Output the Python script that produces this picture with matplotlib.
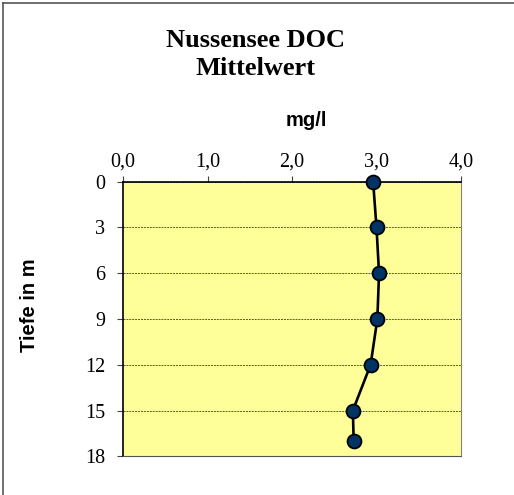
import matplotlib.pyplot as plt
from matplotlib.lines import Line2D

# Nussensee DOC Mittelwert
tiefe = [0, 3, 6, 9, 12, 15, 17]
doc = [2.96, 3.00, 3.03, 3.01, 2.93, 2.72, 2.73]

x_ticks = [0, 1, 2, 3, 4]
x_labels = ["0,0", "1,0", "2,0", "3,0", "4,0"]
y_ticks = [0, 3, 6, 9, 12, 15, 18]

fig = plt.figure(figsize=(5.14, 4.95), dpi=100)
ax = fig.add_axes([0.2393, 0.0782, 0.6576, 0.5547])
ax.set_facecolor("#FFFF99")

ax.plot(doc, tiefe, color="black", lw=1.9, marker="o", markersize=10,
        markerfacecolor="#003366", markeredgecolor="black", markeredgewidth=1.3,
        zorder=3, clip_on=False)

ax.set_xlim(0, 4)
ax.set_ylim(18, 0)
ax.set_xticks(x_ticks)
ax.set_xticklabels(x_labels, family="Liberation Serif", fontsize=14.5)
ax.set_yticks(y_ticks)
ax.set_yticklabels([str(v) for v in y_ticks], family="Liberation Serif", fontsize=14.5)
ax.xaxis.tick_top()
ax.tick_params(axis="x", direction="out", length=4, width=0.8, pad=3, color="#444444")
ax.tick_params(axis="y", direction="out", length=4.3, width=0.8, pad=8.5, color="#444444")

ax.yaxis.grid(True, linestyle=(0, (2, 1)), color="#555555", lw=0.7)
ax.set_axisbelow(True)

ax.spines["top"].set_color("black")
ax.spines["left"].set_color("black")
ax.spines["top"].set_linewidth(1.2)
ax.spines["left"].set_linewidth(1.2)
ax.spines["right"].set_color("#808080")
ax.spines["bottom"].set_color("#555555")

fig.text(0.497, 0.918, "Nussensee DOC", ha="center", va="center",
         family="Liberation Serif", fontweight="bold", fontsize=19)
fig.text(0.497, 0.862, "Mittelwert", ha="center", va="center",
         family="Liberation Serif", fontweight="bold", fontsize=19)
fig.text(0.595, 0.757, "mg/l", ha="center", va="center",
         family="Liberation Sans", fontweight="bold", fontsize=14.5)
fig.text(0.058, 0.384, "Tiefe in m", ha="center", va="center", rotation=90,
         family="Liberation Sans", fontweight="bold", fontsize=14.5)

# chart frame (top and left visible)
fig.add_artist(Line2D([0.006, 1.0], [0.994, 0.994], transform=fig.transFigure,
                      color="#555555", lw=1.2))
fig.add_artist(Line2D([0.006, 0.006], [0.0, 0.994], transform=fig.transFigure,
                      color="#555555", lw=1.2))

fig.savefig("out.png", dpi=100)
